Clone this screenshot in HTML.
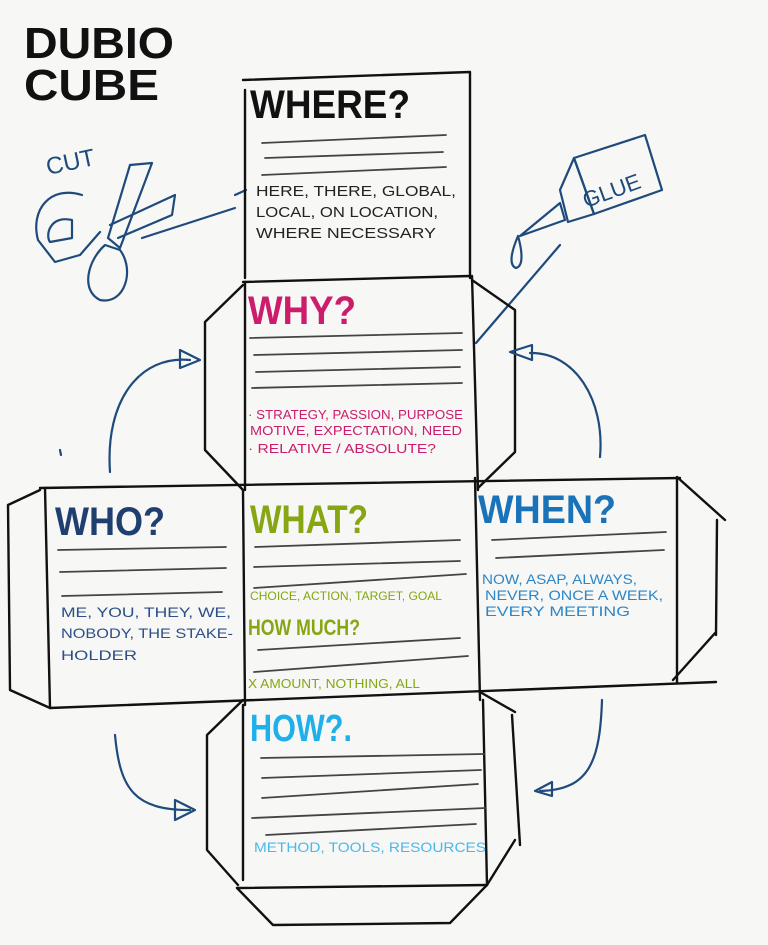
<!DOCTYPE html>
<html><head><meta charset="utf-8">
<style>
html,body{margin:0;padding:0;background:#f7f7f5;}
svg{display:block}
text{font-family:"Liberation Sans",sans-serif;}
.k{stroke:#111;stroke-width:2.4;fill:none;stroke-linecap:round;stroke-linejoin:round}
.g{stroke:#444;stroke-width:1.8;fill:none;stroke-linecap:round}
.b{stroke:#1f4a7c;stroke-width:2.2;fill:none;stroke-linecap:round;stroke-linejoin:round}
.t{font-weight:bold}
</style></head>
<body>
<svg width="768" height="945" viewBox="0 0 768 945" xmlns="http://www.w3.org/2000/svg">
<rect width="768" height="945" fill="#f7f7f5"/>
<!-- title -->
<text x="24" y="58" font-size="44" font-weight="bold" fill="#111" textLength="150" lengthAdjust="spacingAndGlyphs">DUBIO</text>
<text x="24" y="100" font-size="44" font-weight="bold" fill="#111" textLength="135" lengthAdjust="spacingAndGlyphs">CUBE</text>

<!-- scissors -->
<text x="48" y="175" font-size="24" fill="#1f4a7c" transform="rotate(-12 48 175)">CUT</text>
<g class="b">
<path d="M130 165 L152 163 L120 248 L108 238 Z"/>
<path d="M110 225 L175 195 L172 215 L118 238"/>
<path d="M82 195 C50 185 30 210 38 240 L55 262 L80 255 L100 232"/>
<path d="M72 220 C50 215 45 235 50 242 L72 238 Z"/>
<path d="M105 245 C88 260 80 290 100 300 C125 305 135 270 120 250 Z"/>
<path d="M142 238 L235 208"/>
<path d="M235 195 L246 190"/>
</g>
<!-- glue -->
<g class="b">
<path d="M574 158 L645 135 L662 190 L594 214 Z"/>
<path d="M560 190 L574 158 L594 214 L568 222 Z"/>
<path d="M520 236 L560 203 L565 220 Z"/>
<path d="M518 236 C512 250 508 265 516 268 C524 266 522 250 518 236"/>
<path d="M476 343 L560 245"/>
</g>
<text x="586" y="208" font-size="22" fill="#1f4a7c" transform="rotate(-20 586 208)">GLUE</text>

<!-- faces -->
<g class="k">
<!-- where -->
<path d="M243 80 L470 72 L470 278"/>
<path d="M245 90 L245 278"/>
<path d="M243 282 L470 276"/>
<!-- why -->
<path d="M245 282 L245 490"/>
<path d="M472 276 L478 490"/>
<path d="M243 285 L205 322 L205 450 L243 490"/>
<path d="M472 280 L515 310 L515 452 L478 488"/>
<!-- middle row -->
<path d="M40 488 L680 478"/>
<path d="M50 708 L716 682"/>
<path d="M45 488 L50 708"/>
<path d="M243 490 L245 705"/>
<path d="M475 478 L480 700"/>
<path d="M677 478 L677 682"/>
<path d="M40 490 L8 505 L10 690 L50 708"/>
<path d="M677 477 L725 520 M717 520 L716 635 M716 632 L673 680"/>
<!-- how -->
<path d="M243 705 L243 880"/>
<path d="M483 700 L487 885"/>
<path d="M243 700 L207 735 L207 850 L238 885"/>
<path d="M480 692 L515 712 M512 715 L520 845 M515 840 L487 885"/>
<path d="M237 888 L487 885"/>
<path d="M237 888 L273 925 L450 923 L487 885"/>
</g>

<!-- WHERE -->
<text x="250" y="118" font-size="40" class="t" fill="#111" textLength="160" lengthAdjust="spacingAndGlyphs">WHERE?</text>
<g class="g"><path d="M262 143 L446 135"/><path d="M265 158 L443 152"/><path d="M262 175 L446 167"/></g>
<text font-size="15" fill="#222"><tspan x="256" y="196" textLength="200" lengthAdjust="spacingAndGlyphs">HERE, THERE, GLOBAL,</tspan><tspan x="256" y="217" textLength="182" lengthAdjust="spacingAndGlyphs">LOCAL, ON LOCATION,</tspan><tspan x="256" y="238" textLength="180" lengthAdjust="spacingAndGlyphs">WHERE NECESSARY</tspan></text>

<!-- WHY -->
<text x="248" y="324" font-size="40" class="t" fill="#cc1c6c" textLength="108" lengthAdjust="spacingAndGlyphs">WHY?</text>
<g class="g"><path d="M250 338 L462 333"/><path d="M254 355 L462 350"/><path d="M256 372 L460 367"/><path d="M252 388 L462 383"/></g>
<text font-size="13" fill="#cc1c6c"><tspan x="248" y="419" textLength="215" lengthAdjust="spacingAndGlyphs">· STRATEGY, PASSION, PURPOSE</tspan><tspan x="250" y="435" textLength="212" lengthAdjust="spacingAndGlyphs">MOTIVE, EXPECTATION, NEED</tspan><tspan x="248" y="453" textLength="188" lengthAdjust="spacingAndGlyphs">· RELATIVE / ABSOLUTE?</tspan></text>

<!-- WHO -->
<text x="55" y="535" font-size="40" class="t" fill="#1f3f70" textLength="110" lengthAdjust="spacingAndGlyphs">WHO?</text>
<g class="g"><path d="M58 550 L226 547"/><path d="M60 572 L226 568"/><path d="M62 596 L222 592"/></g>
<text font-size="14" fill="#2c4f88"><tspan x="61" y="617" textLength="170" lengthAdjust="spacingAndGlyphs">ME, YOU, THEY, WE,</tspan><tspan x="61" y="638" textLength="172" lengthAdjust="spacingAndGlyphs">NOBODY, THE STAKE-</tspan><tspan x="61" y="660" textLength="76" lengthAdjust="spacingAndGlyphs">HOLDER</tspan></text>

<!-- WHAT -->
<text x="250" y="533" font-size="40" class="t" fill="#86a614" textLength="118" lengthAdjust="spacingAndGlyphs">WHAT?</text>
<g class="g"><path d="M255 547 L460 540"/><path d="M254 567 L460 561"/><path d="M254 588 L466 574"/><path d="M258 650 L460 638"/><path d="M254 672 L468 656"/></g>
<text x="250" y="600" font-size="12" fill="#86a614" textLength="192" lengthAdjust="spacingAndGlyphs">CHOICE, ACTION, TARGET, GOAL</text>
<text x="248" y="635" font-size="22" class="t" fill="#86a614" textLength="112" lengthAdjust="spacingAndGlyphs">HOW MUCH?</text>
<text x="248" y="688" font-size="13" fill="#86a614" textLength="172" lengthAdjust="spacingAndGlyphs">X AMOUNT, NOTHING, ALL</text>

<!-- WHEN -->
<text x="478" y="523" font-size="40" class="t" fill="#1a73b8" textLength="138" lengthAdjust="spacingAndGlyphs">WHEN?</text>
<g class="g"><path d="M492 540 L666 532"/><path d="M496 558 L664 550"/></g>
<text font-size="14" fill="#2d86c8"><tspan x="482" y="584" textLength="155" lengthAdjust="spacingAndGlyphs">NOW, ASAP, ALWAYS,</tspan><tspan x="485" y="600" textLength="178" lengthAdjust="spacingAndGlyphs">NEVER, ONCE A WEEK,</tspan><tspan x="485" y="616" textLength="145" lengthAdjust="spacingAndGlyphs">EVERY MEETING</tspan></text>

<!-- HOW -->
<text x="250" y="741" font-size="38" class="t" fill="#1fb0ec" textLength="102" lengthAdjust="spacingAndGlyphs">HOW?.</text>
<g class="g"><path d="M261 758 L484 754"/><path d="M262 778 L481 770"/><path d="M262 798 L478 784"/><path d="M252 818 L486 808"/><path d="M266 835 L476 824"/></g>
<text x="254" y="852" font-size="14" fill="#4ab8ec" textLength="232" lengthAdjust="spacingAndGlyphs">METHOD, TOOLS, RESOURCES</text>

<!-- arrows -->
<g class="b">
<path d="M110 472 C105 400 140 355 190 360"/>
<path d="M180 350 L200 360 L180 368 Z"/>
<path d="M600 457 C605 400 575 352 530 353"/>
<path d="M532 345 L510 352 L532 360 Z"/>
<path d="M115 735 C120 790 135 810 190 810"/>
<path d="M175 800 L195 810 L175 820 Z"/>
<path d="M602 700 C600 760 590 790 540 791"/>
<path d="M552 782 L535 791 L552 796 Z"/>
<path d="M60 450 L61 455"/>
</g>
</svg>
</body></html>
